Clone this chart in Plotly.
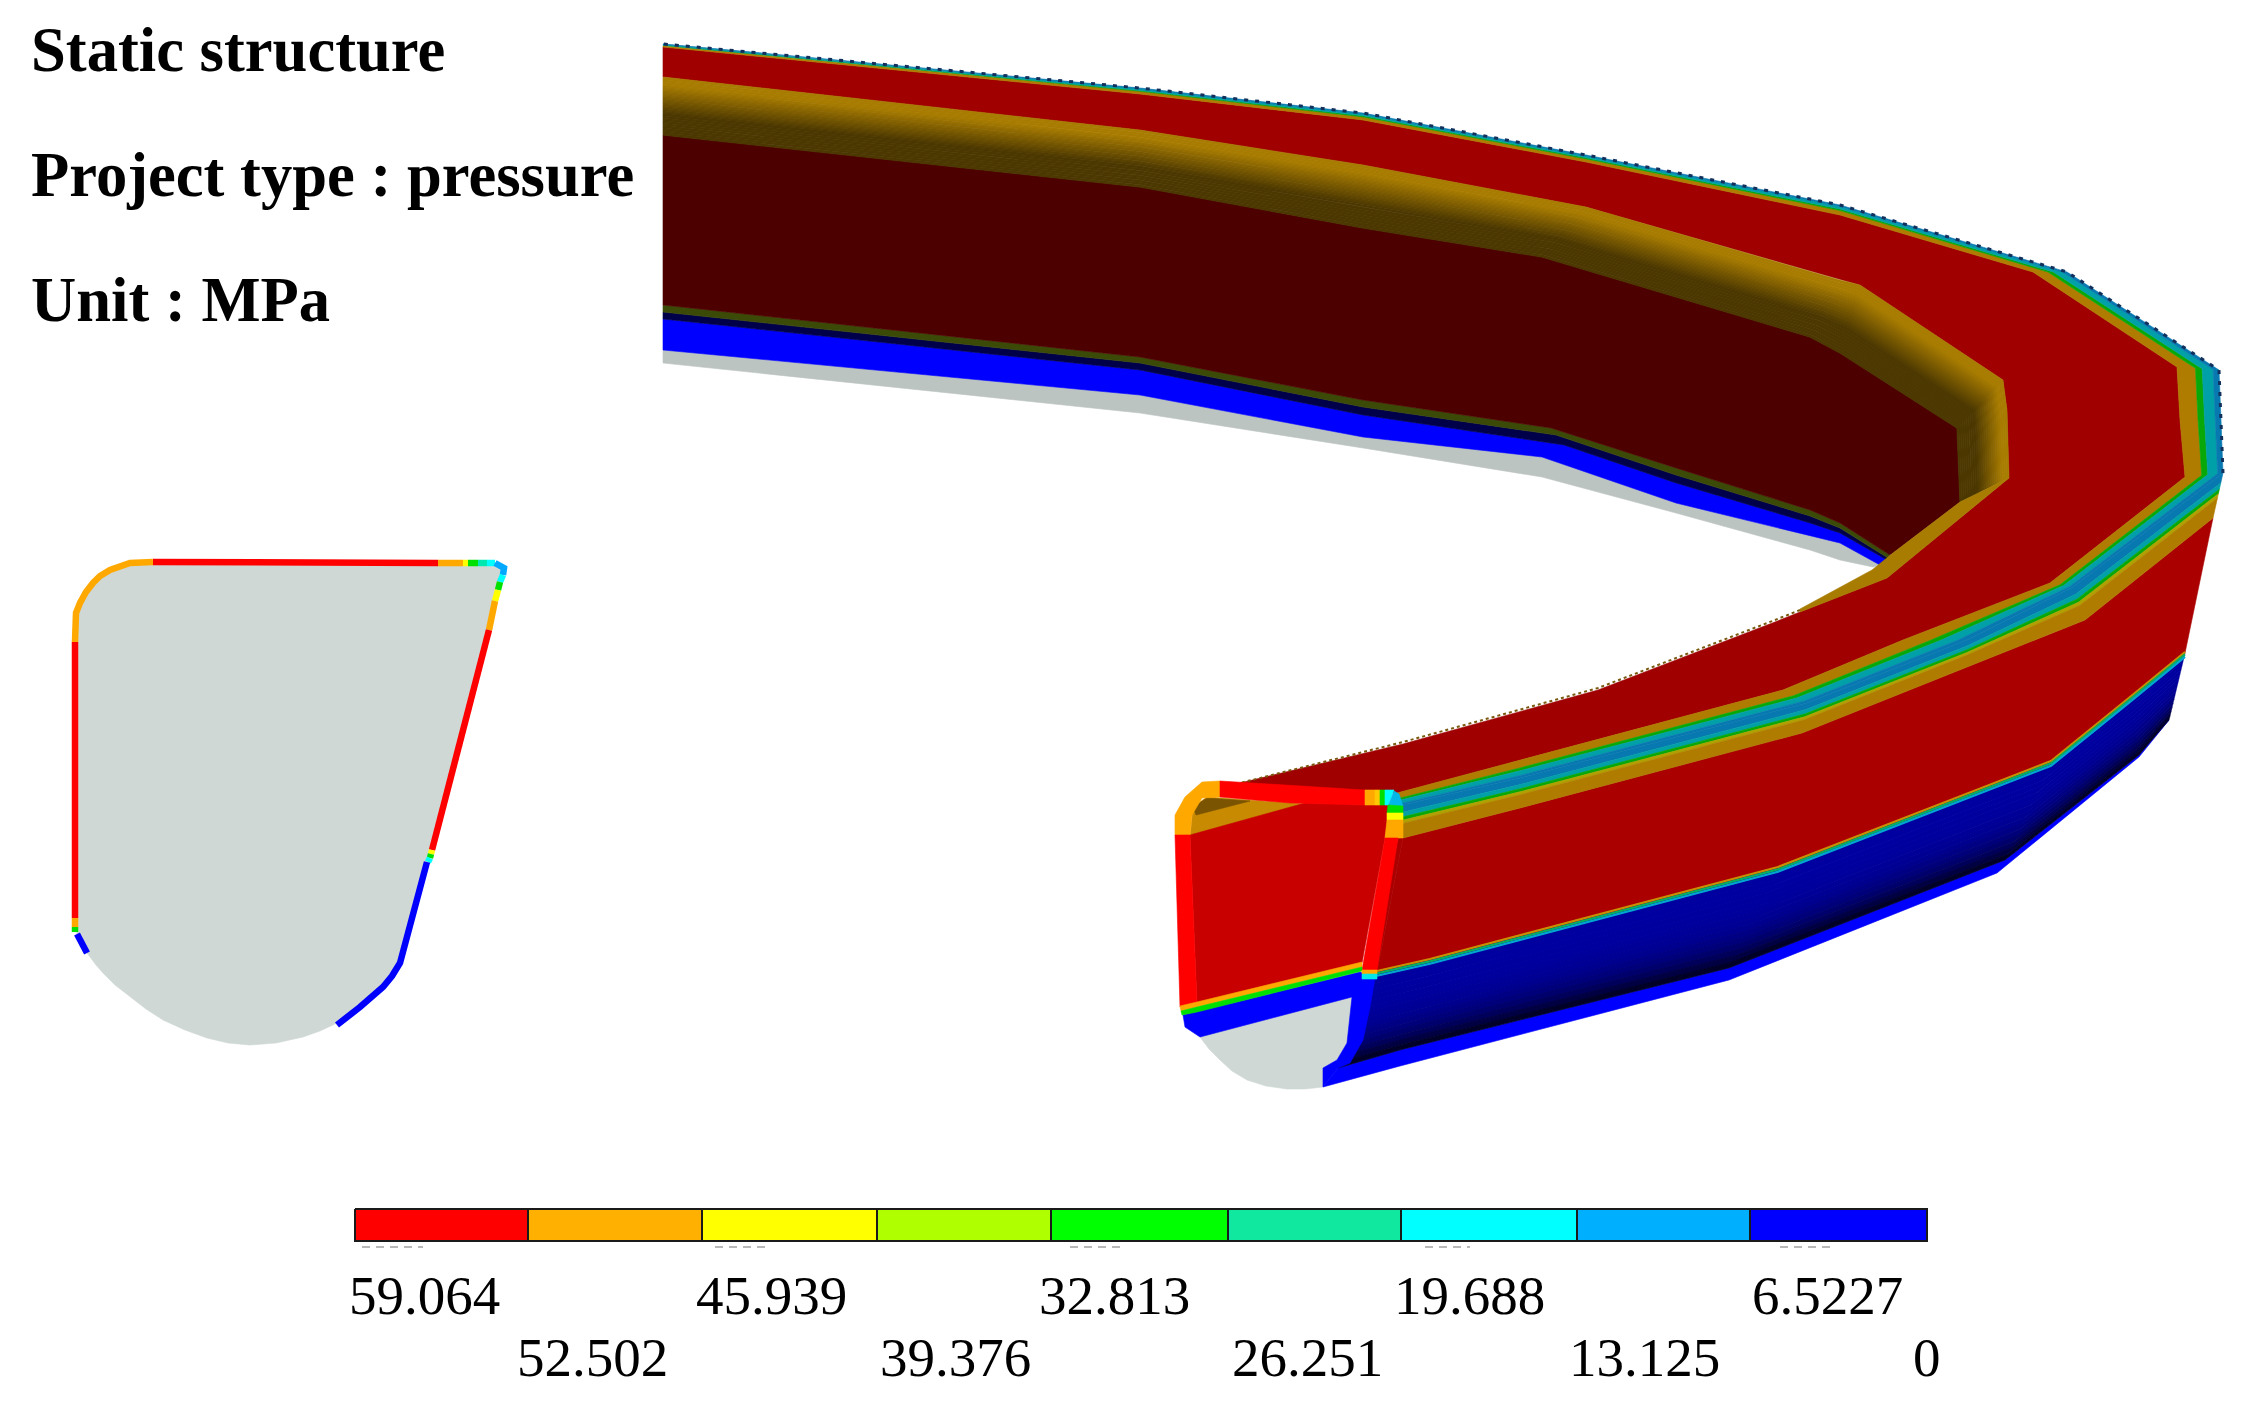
import numpy as np
import plotly.graph_objects as go

# ---- text and legend ----
TITLE_LINES = ["Static structure", "Project type : pressure", "Unit : MPa"]
TITLE_Y = [50, 175, 300]
LEGEND_COLORS = ["#ff0000", "#ffb000", "#ffff00", "#b0ff00", "#00ff00", "#10e8a0", "#00ffff", "#00b0ff", "#0000ff"]
LEGEND_EDGES = [355, 528, 702, 877, 1051, 1228, 1401, 1577, 1750, 1927]
LABELS_ROW1 = ["59.064", "45.939", "32.813", "19.688", "6.5227"]
LABELS_ROW1_X = [424, 771, 1114, 1469, 1827]
LABELS_ROW2 = ["52.502", "39.376", "26.251", "13.125", "0"]
LABELS_ROW2_X = [592, 955, 1307, 1644, 1927]
LEGEND_TICKS = [(362,423), (715,769), (1070,1120), (1425,1470), (1780,1830)]

# ---- cross-section (left) ----
SECTION = [(75,642),(75,623),(76,613),(80,603),(86,592),(93,583),(100,576),(110,570),(120,566),(130,563),(153,562),(277,562),(438,563),(497,563),(504,568),
           (498,588),(490,630),(432,850),(427,862),(400,963),(392,976),(383,987),(360,1007),(337,1023),(320,1031),(303,1037),(276,1043),(250,1045),
           (228,1043),(207,1038),(185,1030),(163,1020),(146,1009),(130,997),(115,985),(103,973),(96,965),(87,953),(75,930)]
SECTION_EDGES = [
    ("#ffa800", [(75,642),(75,623),(76,613),(80,603),(86,592),(93,583),(100,576),(110,570),(120,566),(130,563),(153,562)]),
    ("#ff0000", [(153,562),(277,562),(277,563),(438,563)]),
    ("#ffa800", [(438,563),(463,563)]), ("#ffff00", [(463,563),(468,563)]), ("#00e000", [(468,563),(478,563)]),
    ("#00e8b0", [(478,563),(487,563)]), ("#00ffff", [(487,563),(495,563)]),
    ("#00a8ff", [(495,563),(504,568),(503,575)]), ("#00ffff", [(503,575),(500,582)]), ("#00e000", [(500,582),(498,590)]),
    ("#ffff00", [(498,590),(495,601)]), ("#ffa800", [(495,601),(489,630)]),
    ("#ff0000", [(489,630),(432,850)]), ("#ffff00", [(432,850),(431,854)]), ("#00e000", [(431,854),(430,858)]),
    ("#00ffff", [(430,858),(428,862)]),
    ("#0000ff", [(427,862),(400,963),(392,976),(383,987),(360,1007),(337,1025)]),
    ("#ff0000", [(75,642),(75,918)]), ("#ffa800", [(75,918),(75,927)]), ("#00e000", [(75,927),(75,932)]),
    ("#0000ff", [(77,934),(87,953)]),
]

# ---- ring: inner ledge ----
MAROON_LOW = [(663,305),(1140,357),(1363,400),(1551,428),(1676,468),(1810,510),(1840,523),(1890,555)]
OLIVE_LOW = [(663,312),(1140,363),(1363,407),(1556,435),(1676,475),(1810,516),(1840,528),(1888,558)]
NAVY_LOW = [(663,319),(1140,370),(1363,415),(1564,445),(1676,483),(1810,523),(1840,533),(1887,560)]
BLUE_LOW = [(663,350),(1140,395),(1363,437),(1542,457),(1676,503),(1810,536),(1840,543),(1880,565)]
GREY_LOW = [(663,363),(1140,413),(1363,448),(1542,477),(1676,513),(1810,550),(1840,560),(1873,567)]

# ---- ring: inner wall ----
WALL_OUTER = [(663,77),(1140,130),(1363,165),(1586,207),(1840,280),(1860,285),(2003,380),(2007,410),(2009,478)]
WALL_INNER = [(663,135),(1140,187),(1363,228),(1542,257),(1810,337),(1840,353),(1957,428),(1958,460),(1960,502)]
WALL_TAIL = [(1960,502),(2009,478),(1887,578),(1800,612),(1800,609),(1872,570),(1893,553)]
RIDGE_INNER = [(2009,478),(1887,578),(1800,612),(1775,622),(1598,690),(1403,744),(1240,783)]
RIDGE_LINE = [(1800,610),(1775,620),(1598,688),(1403,742),(1240,783)]

# ---- ring: sealing lip stripes, front to back ----
TIP = [(1398,806),(1520,778),(1807,703),(1967,640),(2073,587),(2223,473),(2221,420),(2219,370),(2067,272),(1840,205),(1586,155),(1363,113),(1140,88),(663,44)]
RED_EDGE = [(1397,793),(1520,760),(1783,690),(1903,640),(2050,583),(2185,477),(2180,420),(2177,367),(2033,272),(1840,215),(1586,162),(1363,120),(1140,94),(663,47)]
LOWER_EDGE = [(1403,838),(1520,808),(1802,733),(1967,667),(2085,620),(2213,518)]
UPPER_STOPS = [0, .44, .60, .86, 1]
UPPER_COLORS = ["#b07c00", "#08a808", "#00a0a8", "#0878b0"]
LOWER_STOPS = [0, .22, .36, .46, .56, 1]
LOWER_COLORS = ["#0878b0", "#00a0a8", "#08a808", "#b0a000", "#b07c00"]

# ---- ring: outer face ----
RED_BLUE = [(1377,972),(1430,960),(1778,868),(2051,762),(2130,698),(2185,653)]
BLUE_STRIP_TOP = [(1338,1068),(1400,1050),(1729,968),(2005,860),(2139,755),(2169,720)]
BLUE_STRIP_LOW = [(1323,1087),(1400,1066),(1729,980),(1997,873),(2139,757),(2169,720)]

# ---- front end (cut face) ----
FRONT_FACE = [(1190,835),(1305,803),(1390,805),(1385,838),(1362,963),(1197,1003)]
FRONT_GOLD = [(1193,807),(1207,797),(1305,804),(1190,838)]
FRONT_GOLD_DARK = [(1193,807),(1207,798),(1250,801),(1196,815)]
FRONT_BLUE = [(1183,1015),(1360,972),(1375,978),(1370,1007),(1363,1040),(1350,1063),(1338,1068),(1323,1087),(1323,1068),
              (1337,1060),(1347,1043),(1352,997),(1200,1037),(1185,1027)]
FRONT_GREY = [(1200,1037),(1352,997),(1353,1012),(1347,1043),(1337,1060),(1323,1068),(1323,1087),(1305,1089),(1287,1089),(1266,1086),
              (1247,1080),(1232,1071),(1220,1060),(1209,1049)]
FRONT_PIECES = [
    ("#ffa800", [(1175,835),(1175,815),(1185,797),(1202,782),(1220,781),(1220,797),(1202,798),(1192,815),(1190,835)]),
    ("#ff0000", [(1220,781),(1365,790),(1365,805),(1290,803),(1220,797)]),
    ("#ffa800", [(1365,790),(1375,790),(1375,805),(1365,805)]),
    ("#ffc800", [(1375,790),(1380,790),(1380,805),(1375,805)]),
    ("#00e000", [(1380,790),(1385,790),(1385,805),(1380,805)]),
    ("#00ffff", [(1385,790),(1394,790),(1388,805),(1385,805)]),
    ("#00b8e8", [(1394,791),(1399,794),(1403,806),(1388,806)]),
    ("#00e000", [(1388,805),(1403,806),(1403,813),(1387,813)]),
    ("#ffff00", [(1387,813),(1403,813),(1403,820),(1387,820)]),
    ("#ffa800", [(1387,820),(1403,820),(1403,838),(1385,838)]),
    ("#ff0000", [(1385,838),(1398,838),(1377,970),(1362,970)]),
    ("#ff0000", [(1175,835),(1190,835),(1197,1003),(1180,1007)]),
    ("#ffa800", [(1180,1006),(1197,1002),(1362,962),(1362,967),(1197,1007),(1181,1011)]),
    ("#00e000", [(1181,1011),(1197,1007),(1362,967),(1362,971),(1197,1012),(1182,1015)]),
    ("#ffa800", [(1362,970),(1377,970),(1377,974),(1362,974)]),
    ("#00e8e8", [(1362,974),(1377,974),(1377,979),(1362,979)]),
]


def xy(points):
    arr = np.array(points, dtype=float)
    return arr[:, 0], arr[:, 1]


def blend(p, q, t):
    return (1 - t) * np.array(p, dtype=float) + t * np.array(q, dtype=float)


def mix(c0, c1, t):
    return "rgb(%d,%d,%d)" % tuple(round(a + (b - a) * t) for a, b in zip(c0, c1))


fig = go.Figure()


def poly(points, color):
    x, y = xy(points)
    fig.add_trace(go.Scatter(x=np.append(x, x[0]), y=np.append(y, y[0]), mode="lines", fill="toself", fillcolor=color,
                             line=dict(color=color, width=0.6), hoverinfo="skip", showlegend=False))


def line(points, color, width, dash=None):
    x, y = xy(points)
    fig.add_trace(go.Scatter(x=x, y=y, mode="lines", line=dict(color=color, width=width, dash=dash),
                             hoverinfo="skip", showlegend=False))


def band(p, q, color):
    poly(list(map(tuple, p)) + list(map(tuple, q))[::-1], color)


# left section
poly(SECTION, "#cfd8d4")
for color, pts in SECTION_EDGES:
    line(pts, color, 6.5)

# ledge
band(GREY_LOW, BLUE_LOW, "#bcc4c2")
band(BLUE_LOW, NAVY_LOW, "#0000ff")
band(NAVY_LOW, OLIVE_LOW, "#00004a")
band(OLIVE_LOW, MAROON_LOW, "#3c4a08")

# top surface red (under the wall)
poly(RED_EDGE + WALL_OUTER + RIDGE_INNER[1:], "#a00000")

# wall
poly(WALL_INNER + [(1893,553)] + MAROON_LOW[::-1], "#4d0000")
GOLD = (168, 124, 0)
DARK = (76, 56, 0)
N_SHADE = 24
for i in range(N_SHADE):
    t0, t1 = i / N_SHADE, (i + 1) / N_SHADE
    shade = min(1, max(0, (t0 - .12) / .5))
    band(blend(WALL_OUTER, WALL_INNER, t0), blend(WALL_OUTER, WALL_INNER, t1 + .004), mix(GOLD, DARK, shade))
poly(WALL_TAIL, "#a87c00")
line(RIDGE_LINE, "#7a5a10", 2, "3px,3px")

# outer face
band(BLUE_STRIP_LOW, BLUE_STRIP_TOP, "#0000ff")
N_BLUE = 16
for i in range(N_BLUE):
    t0, t1 = i / N_BLUE, (i + 1) / N_BLUE
    c = mix((0, 0, 160), (0, 0, 40), t1 ** 4)
    band(blend(RED_BLUE, BLUE_STRIP_TOP, t0), blend(RED_BLUE, BLUE_STRIP_TOP, min(1, t1 + .005)), c)
poly(LOWER_EDGE + [(2185,653)] + RED_BLUE[::-1][1:], "#aa0000")
poly([(1398,838),(1403,838),(1377,972),(1372,972)], "#aa0000")
x, y = xy(RED_BLUE)
for off, col in zip([-1, 1.4, 3.8], ["#c89000", "#08b060", "#00a8d0"]):
    fig.add_trace(go.Scatter(x=x, y=y + off, mode="lines", line=dict(color=col, width=2.2), hoverinfo="skip", showlegend=False))

# lip stripes
for k, col in enumerate(UPPER_COLORS):
    band(blend(RED_EDGE, TIP, UPPER_STOPS[k]), blend(RED_EDGE, TIP, UPPER_STOPS[k + 1]), col)
for k, col in enumerate(LOWER_COLORS):
    band(blend(TIP[:6], LOWER_EDGE, LOWER_STOPS[k]), blend(TIP[:6], LOWER_EDGE, LOWER_STOPS[k + 1]), col)
line(TIP[5:], "#12305c", 3, "4px,7px")

# front end
poly(FRONT_GOLD, "#c88a00")
poly(FRONT_GOLD_DARK, "#7a5400")
poly(FRONT_FACE, "#c80000")
poly(FRONT_GREY, "#cfd8d4")
poly(FRONT_BLUE, "#0000ff")
for color, pts in FRONT_PIECES:
    poly(pts, color)

# legend
for k, col in enumerate(LEGEND_COLORS):
    a, b = LEGEND_EDGES[k], LEGEND_EDGES[k + 1]
    fig.add_trace(go.Scatter(x=[a, b, b, a, a], y=[1209, 1209, 1241, 1241, 1209], mode="lines", fill="toself", fillcolor=col,
                             line=dict(color="#1a1a1a", width=2), hoverinfo="skip", showlegend=False))
for a, b in LEGEND_TICKS:
    line([(a, 1247), (b, 1247)], "#b8b8b8", 2, "8px,6px")

ann = []
for text, yy in zip(TITLE_LINES, TITLE_Y):
    ann.append(dict(x=29, y=yy, text="<b>%s</b>" % text, xanchor="left", yanchor="middle", showarrow=False,
                    font=dict(family="Liberation Serif", size=62.6, color="black")))
for row, xs, yy in [(LABELS_ROW1, LABELS_ROW1_X, 1295), (LABELS_ROW2, LABELS_ROW2_X, 1357)]:
    for text, xx in zip(row, xs):
        ann.append(dict(x=xx, y=yy, text=text, xanchor="center", yanchor="middle", showarrow=False,
                        font=dict(family="Liberation Serif", size=55, color="black")))

fig.update_layout(width=2252, height=1406, margin=dict(l=0, r=0, t=0, b=0), paper_bgcolor="white", plot_bgcolor="white",
                  showlegend=False, annotations=ann,
                  xaxis=dict(range=[0, 2252], visible=False, fixedrange=True),
                  yaxis=dict(range=[1406, 0], visible=False, fixedrange=True))
fig.write_html("out.html", post_script="document.body.style.margin='0';", config=dict(displayModeBar=False))
